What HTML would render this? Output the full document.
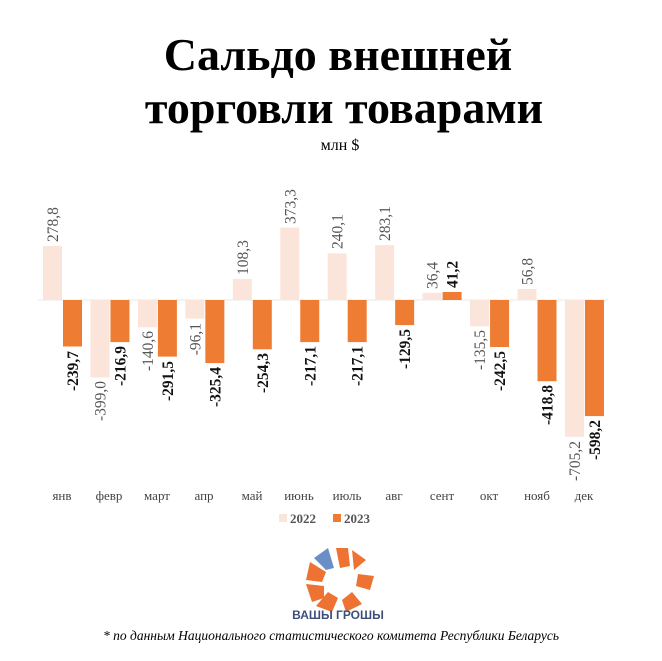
<!DOCTYPE html>
<html><head><meta charset="utf-8"><style>
body{margin:0;background:#fff;}
svg{display:block;font-family:"Liberation Serif",serif;}
</style></head><body>
<svg width="662" height="661" viewBox="0 0 662 661" xmlns="http://www.w3.org/2000/svg">
<text x="338" y="70" text-anchor="middle" font-size="46" font-weight="bold">Сальдо внешней</text>
<text x="344" y="123" text-anchor="middle" font-size="46" font-weight="bold">торговли товарами</text>
<text x="340" y="150" text-anchor="middle" font-size="16">млн $</text>
<line x1="38" y1="300" x2="608" y2="300" stroke="#e8e8e8" stroke-width="1"/>
<g fill="#fbe5da">
<rect x="43" y="245.9" width="19" height="54.1"/>
<rect x="90.45" y="300" width="19" height="77.4"/>
<rect x="137.9" y="300" width="19" height="27.3"/>
<rect x="185.35" y="300" width="19" height="18.6"/>
<rect x="232.8" y="279" width="19" height="21"/>
<rect x="280.25" y="227.6" width="19" height="72.4"/>
<rect x="327.7" y="253.4" width="19" height="46.6"/>
<rect x="375.15" y="245.1" width="19" height="54.9"/>
<rect x="422.6" y="292.9" width="19" height="7.1"/>
<rect x="470.05" y="300" width="19" height="26.3"/>
<rect x="517.5" y="289" width="19" height="11"/>
<rect x="564.95" y="300" width="19" height="136.8"/>
</g>
<g fill="#ee7d33">
<rect x="63" y="300" width="19" height="46.5"/>
<rect x="110.45" y="300" width="19" height="42.1"/>
<rect x="157.9" y="300" width="19" height="56.6"/>
<rect x="205.35" y="300" width="19" height="63.1"/>
<rect x="252.8" y="300" width="19" height="49.3"/>
<rect x="300.25" y="300" width="19" height="42.1"/>
<rect x="347.7" y="300" width="19" height="42.1"/>
<rect x="395.15" y="300" width="19" height="25.1"/>
<rect x="442.6" y="292" width="19" height="8"/>
<rect x="490.05" y="300" width="19" height="47"/>
<rect x="537.5" y="300" width="19" height="81.2"/>
<rect x="584.95" y="300" width="19" height="116.1"/>
</g>
<g font-size="15.5" fill="#555">
<text transform="translate(58,242) rotate(-90)">278,8</text>
<text transform="translate(105.5,381) rotate(-90)" text-anchor="end">-399,0</text>
<text transform="translate(153,331) rotate(-90)" text-anchor="end">-140,6</text>
<text transform="translate(200.4,323) rotate(-90)" text-anchor="end">-96,1</text>
<text transform="translate(247.8,275) rotate(-90)">108,3</text>
<text transform="translate(295.3,224) rotate(-90)">373,3</text>
<text transform="translate(342.7,249) rotate(-90)">240,1</text>
<text transform="translate(390.2,241) rotate(-90)">283,1</text>
<text transform="translate(437.6,289) rotate(-90)">36,4</text>
<text transform="translate(485.1,330) rotate(-90)" text-anchor="end">-135,5</text>
<text transform="translate(532.5,285) rotate(-90)">56,8</text>
<text transform="translate(580,441) rotate(-90)" text-anchor="end">-705,2</text>
</g>
<g font-size="15.5" fill="#111" font-weight="bold" text-anchor="end">
<text transform="translate(78,351) rotate(-90)">-239,7</text>
<text transform="translate(125.5,346) rotate(-90)">-216,9</text>
<text transform="translate(173,361) rotate(-90)">-291,5</text>
<text transform="translate(220.4,367) rotate(-90)">-325,4</text>
<text transform="translate(267.8,353) rotate(-90)">-254,3</text>
<text transform="translate(315.3,346) rotate(-90)">-217,1</text>
<text transform="translate(362.7,346) rotate(-90)">-217,1</text>
<text transform="translate(410.2,329) rotate(-90)">-129,5</text>
<text transform="translate(457.6,288) rotate(-90)" text-anchor="start">41,2</text>
<text transform="translate(505.1,351) rotate(-90)">-242,5</text>
<text transform="translate(552.5,385) rotate(-90)">-418,8</text>
<text transform="translate(600,420) rotate(-90)">-598,2</text>
</g>
<g font-size="13" fill="#444" text-anchor="middle">
<text x="62" y="500">янв</text><text x="109" y="500">февр</text><text x="157" y="500">март</text><text x="204" y="500">апр</text><text x="252" y="500">май</text><text x="299" y="500">июнь</text><text x="347" y="500">июль</text><text x="394" y="500">авг</text><text x="442" y="500">сент</text><text x="489" y="500">окт</text><text x="537" y="500">нояб</text><text x="584" y="500">дек</text>
</g>
<rect x="279" y="514" width="8" height="8" fill="#fbe5da"/>
<text x="290" y="523" font-size="13" font-weight="bold" fill="#555">2022</text>
<rect x="333" y="514" width="8" height="8" fill="#ee7d33"/>
<text x="344" y="523" font-size="13" font-weight="bold" fill="#555">2023</text>
<g transform="translate(340,578)" fill="#ee7232">
<path d="M-4,-30 L8,-30 L10,-12 L0,-10 Z"/>
<path d="M12,-28 L26,-18 L14,-8 Z"/>
<path d="M18,-4 L34,-2 L30,12 L16,8 Z"/>
<path d="M-30,-16 L-14,-6 L-18,4 L-34,2 Z"/>
<path d="M-34,6 L-16,8 L-16,20 L-28,24 Z"/>
<path d="M-24,28 L-12,14 L-2,20 L-8,34 Z"/>
<path d="M2,22 L12,14 L22,26 L6,34 Z"/>
<path d="M-26,-20 L-12,-30 L-6,-10 L-14,-8 Z" fill="#6a8fc8"/>
</g>
<text x="338" y="619" text-anchor="middle" font-family="Liberation Sans,sans-serif" font-weight="bold" font-size="12" fill="#3d4f78">ВАШЫ ГРОШЫ</text>
<text x="331" y="640" text-anchor="middle" font-size="13.5" font-style="italic">* по данным Национального статистического комитета Республики Беларусь</text>
</svg>
</body></html>
